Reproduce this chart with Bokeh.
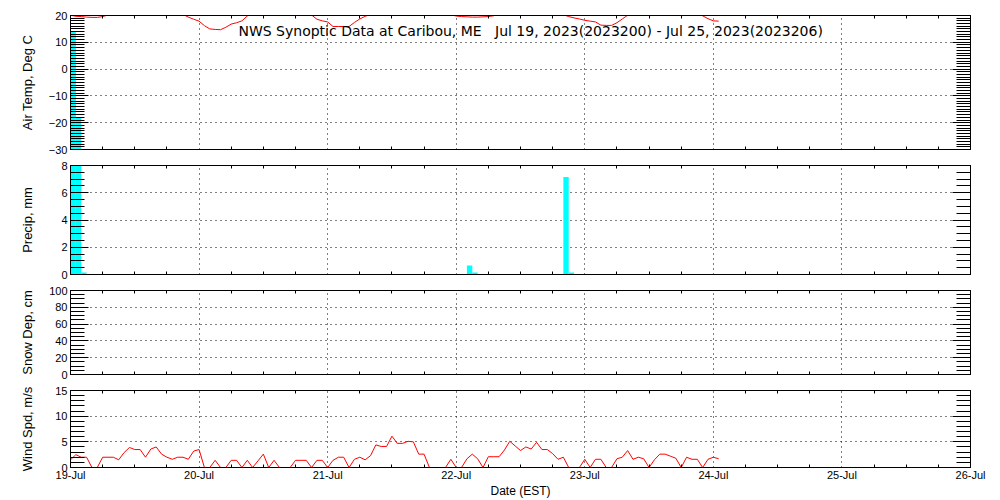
import numpy as np
from bokeh.plotting import figure
from bokeh.layouts import column
from bokeh.models import Range1d, FixedTicker, LinearAxis, Label
from bokeh.embed import file_html
from bokeh.resources import INLINE

# ---------------- data ----------------
title_text = ("NWS Synoptic Data at Caribou, ME\u00a0\u00a0\u00a0"
              "Jul 19, 2023(2023200) - Jul 25, 2023(2023206)")

# hours since 19-Jul-2023 00:00 EST
obs_hours = list(range(122))

air_temp = [
    20.1, 19.7, 19.6, 19.4, 19.3, 19.3, 19.6, 20.2,
    21.5, 22.8, 24.0, 25.0, 25.8, 26.3, 26.5, 26.2, 25.6, 24.6, 23.4, 22.2, 21.2,
    20.4, 19.4, 18.6, 17.9, 16.2, 15.0, 14.8, 14.7, 15.6, 16.8, 17.3, 18.0, 19.8,
    21.4, 23.0, 24.5, 25.8, 26.8, 27.3, 27.0, 26.0, 24.5, 23.0, 21.4,
    20.2, 18.6, 18.0, 17.6, 15.9, 15.9, 15.9, 15.9, 17.4, 18.7, 19.7, 20.4,
    21.8, 23.2, 24.6, 25.7, 26.4, 26.7, 26.5, 25.8, 24.8, 23.6, 22.5, 21.6, 21.0, 20.6,
    20.3, 19.8, 19.6, 19.5, 19.4, 19.4, 19.5, 19.6, 19.9, 20.6,
    22.0, 23.5, 24.8, 25.9, 26.6, 27.0, 26.8, 26.0, 24.8, 23.4, 21.8,
    20.3, 19.6, 19.1, 18.7, 18.2, 17.9, 17.6, 16.4, 16.3, 16.3, 17.3, 18.7, 20.1,
    21.8, 23.3, 24.6, 25.6, 26.2, 26.4, 26.0, 25.0, 23.8, 22.6, 21.6, 20.9,
    20.4, 19.9, 18.8, 18.0, 17.9,
]

wind_speed = [
    1.5, 2.5, 2.0, 2.0, 0.0, 0.0, 2.0, 2.0, 2.0, 1.5, 2.9, 3.9, 3.5, 3.5, 2.0, 3.6,
    4.0, 2.6, 2.0, 1.6, 2.0, 2.0, 1.6, 3.2, 3.5, 0.0, 0.0, 1.4, 0.0, 0.0, 1.4, 1.4,
    0.0, 1.4, 0.0, 1.3, 2.6, 0.0, 1.4, 0.0, 0.0, 0.0, 1.4, 1.4, 1.4, 0.0, 1.4, 1.4,
    0.0, 1.4, 2.0, 2.0, 0.0, 1.6, 2.0, 1.5, 2.3, 4.4, 4.1, 4.1, 6.1, 4.7, 4.7, 5.1,
    5.0, 2.6, 2.6, 0.0, 0.0, 0.0, 0.0, 1.6, 0.0, 0.0, 1.7, 2.6, 1.7, 0.0, 2.1, 2.1,
    2.1, 3.4, 5.1, 4.2, 3.3, 4.0, 3.6, 4.9, 3.5, 3.5, 2.7, 1.6, 2.0, 0.0, 0.0, 0.0,
    1.6, 0.0, 1.6, 1.6, 0.0, 0.0, 1.7, 2.0, 3.3, 1.6, 2.0, 1.7, 0.0, 1.5, 2.6, 2.6,
    2.2, 1.8, 0.0, 2.0, 1.6, 1.6, 0.0, 1.6, 2.0, 1.7,
]

precip_hours = [0, 1, 2, 74, 75, 92, 93]
precip_mm = [17.8, 11.5, 0.15, 0.66, 0.15, 7.15, 0.15]

day_ticks = [0, 24, 48, 72, 96, 120, 144, 168]
day_labels = ["19-Jul", "20-Jul", "21-Jul", "22-Jul", "23-Jul", "24-Jul", "25-Jul", "26-Jul"]

temp_ticks = [-30, -20, -10, 0, 10, 20]
temp_labels = ["\u221230", "\u221220", "\u221210", "0", "10", "20"]
precip_ticks = [0, 2, 4, 6, 8]
precip_labels = ["0", "2", "4", "6", "8"]
snow_ticks = [0, 20, 40, 60, 80, 100]
snow_labels = ["0", "20", "40", "60", "80", "100"]
wind_ticks = [0, 5, 10, 15]
wind_labels = ["0", "5", "10", "15"]

# ---------------- style ----------------
W = 1000
BL, BR = 70, 30
TICK_FONT = "Liberation Sans"
LABEL_FONT = "Liberation Sans"
DOTS = "1 4"
xr = Range1d(0, 168)
six_hour = [h for h in range(0, 169, 6) if h % 24 != 0]


def hide_labels(ax):
    ax.major_label_text_font_size = "0px"
    ax.major_label_text_color = None
    ax.major_label_standoff = 0


def style_x(ax, show, axis_label=None):
    ax.ticker = FixedTicker(ticks=day_ticks, minor_ticks=six_hour)
    ax.major_tick_in = 0
    ax.major_tick_out = 0
    ax.minor_tick_in = 3
    ax.minor_tick_out = 0
    ax.axis_line_color = "black"
    ax.major_tick_line_color = "black"
    ax.minor_tick_line_color = "black"
    if show:
        ax.major_label_overrides = {t: l for t, l in zip(day_ticks, day_labels)}
        ax.major_label_text_font = TICK_FONT
        ax.major_label_text_font_size = "11px"
        ax.major_label_text_color = "black"
        ax.major_label_standoff = 1
        if axis_label:
            ax.axis_label = axis_label
            ax.axis_label_text_font = LABEL_FONT
            ax.axis_label_text_font_size = "12px"
            ax.axis_label_text_font_style = "normal"
            ax.axis_label_text_color = "black"
            ax.axis_label_standoff = 0
    else:
        hide_labels(ax)


def style_y(ax, ticks, labels, minor, show, axis_label=None, standoff=10):
    ax.ticker = FixedTicker(ticks=ticks, minor_ticks=minor)
    ax.major_tick_in = 18
    ax.major_tick_out = 0
    ax.minor_tick_in = 14
    ax.minor_tick_out = 0
    ax.axis_line_color = "black"
    ax.major_tick_line_color = "black"
    ax.minor_tick_line_color = "black"
    if show:
        ax.major_label_overrides = {t: l for t, l in zip(ticks, labels)}
        ax.major_label_text_font = TICK_FONT
        ax.major_label_text_font_size = "11px"
        ax.major_label_text_color = "black"
        ax.major_label_standoff = 3
        ax.axis_label = axis_label
        ax.axis_label_text_font = LABEL_FONT
        ax.axis_label_text_font_size = "13px"
        ax.axis_label_text_font_style = "normal"
        ax.axis_label_text_color = "black"
        ax.axis_label_standoff = standoff
    else:
        hide_labels(ax)


def panel(frame_h, y0, y1, ticks, labels, minor, ylabel, standoff, top, bottom,
          show_x, xlabel=None):
    p = figure(width=W, height=top + frame_h + bottom, x_range=xr, y_range=Range1d(y0, y1),
               output_backend="svg", toolbar_location=None,
               min_border_left=BL, min_border_right=BR,
               min_border_top=top, min_border_bottom=bottom)
    p.outline_line_color = "black"
    p.outline_line_alpha = 1.0
    p.outline_line_width = 1
    p.background_fill_color = "white"
    p.border_fill_color = "white"
    p.xgrid.ticker = FixedTicker(ticks=day_ticks[1:-1])
    p.ygrid.ticker = FixedTicker(ticks=ticks[1:-1])
    for g in (p.xgrid[0], p.ygrid[0]):
        g.grid_line_color = "black"
        g.grid_line_alpha = 1.0
        g.grid_line_dash = DOTS
        g.grid_line_width = 1
    style_x(p.xaxis[0], show_x, xlabel)
    style_y(p.yaxis[0], ticks, labels, minor, True, ylabel, standoff)
    top_ax = LinearAxis()
    style_x(top_ax, False)
    p.add_layout(top_ax, "above")
    right_ax = LinearAxis()
    style_y(right_ax, ticks, labels, minor, False)
    p.add_layout(right_ax, "right")
    return p


# panel geometry (frame heights and half gaps)
H1, H2, H3, H4 = 134, 109, 84, 79
HG = 8

p1 = panel(H1, -30, 20, temp_ticks, temp_labels, list(range(-30, 21)),
           "Air Temp, Deg C", 11, 15, HG, False)
p2 = panel(H2, 0, 8, precip_ticks, precip_labels, list(np.arange(0, 8.01, 0.5)),
           "Precip, mm", 23, HG, HG, False)
p3 = panel(H3, 0, 100, snow_ticks, snow_labels, list(range(0, 101, 5)),
           "Snow Dep, cm", 11, HG, HG, False)
p4 = panel(H4, 0, 15, wind_ticks, wind_labels, list(range(0, 16)),
           "Wind Spd, m/s", 17, HG, 31, True, "Date (EST)")

# precipitation bars (overflow continues into the temperature panel)
mm_per_px = 8.0 / H2
ext_lo = 8.0 + 2 * HG * mm_per_px
ext_hi = ext_lo + H1 * mm_per_px
p1.extra_y_ranges = {"precip_ext": Range1d(ext_lo, ext_hi)}

bar_x = [h + 0.5 for h in precip_hours]
p1.vbar(x=bar_x, width=1, bottom=0, top=precip_mm, y_range_name="precip_ext",
        fill_color="#00FFFF", line_color=None)
p2.vbar(x=bar_x, width=1, bottom=0, top=precip_mm, fill_color="#00FFFF", line_color=None)

p1.line(obs_hours, air_temp, line_color="#FF0000", line_width=1)
p4.line(obs_hours, wind_speed, line_color="#FF0000", line_width=1)

p1.add_layout(Label(x=85.9, y=14.4, text=title_text, text_align="center",
                    text_baseline="middle", text_font="DejaVu Sans",
                    text_font_size="14px", text_color="black"))

layout = column(p1, p2, p3, p4, spacing=0)
open("out.html", "w").write(file_html(layout, INLINE))
